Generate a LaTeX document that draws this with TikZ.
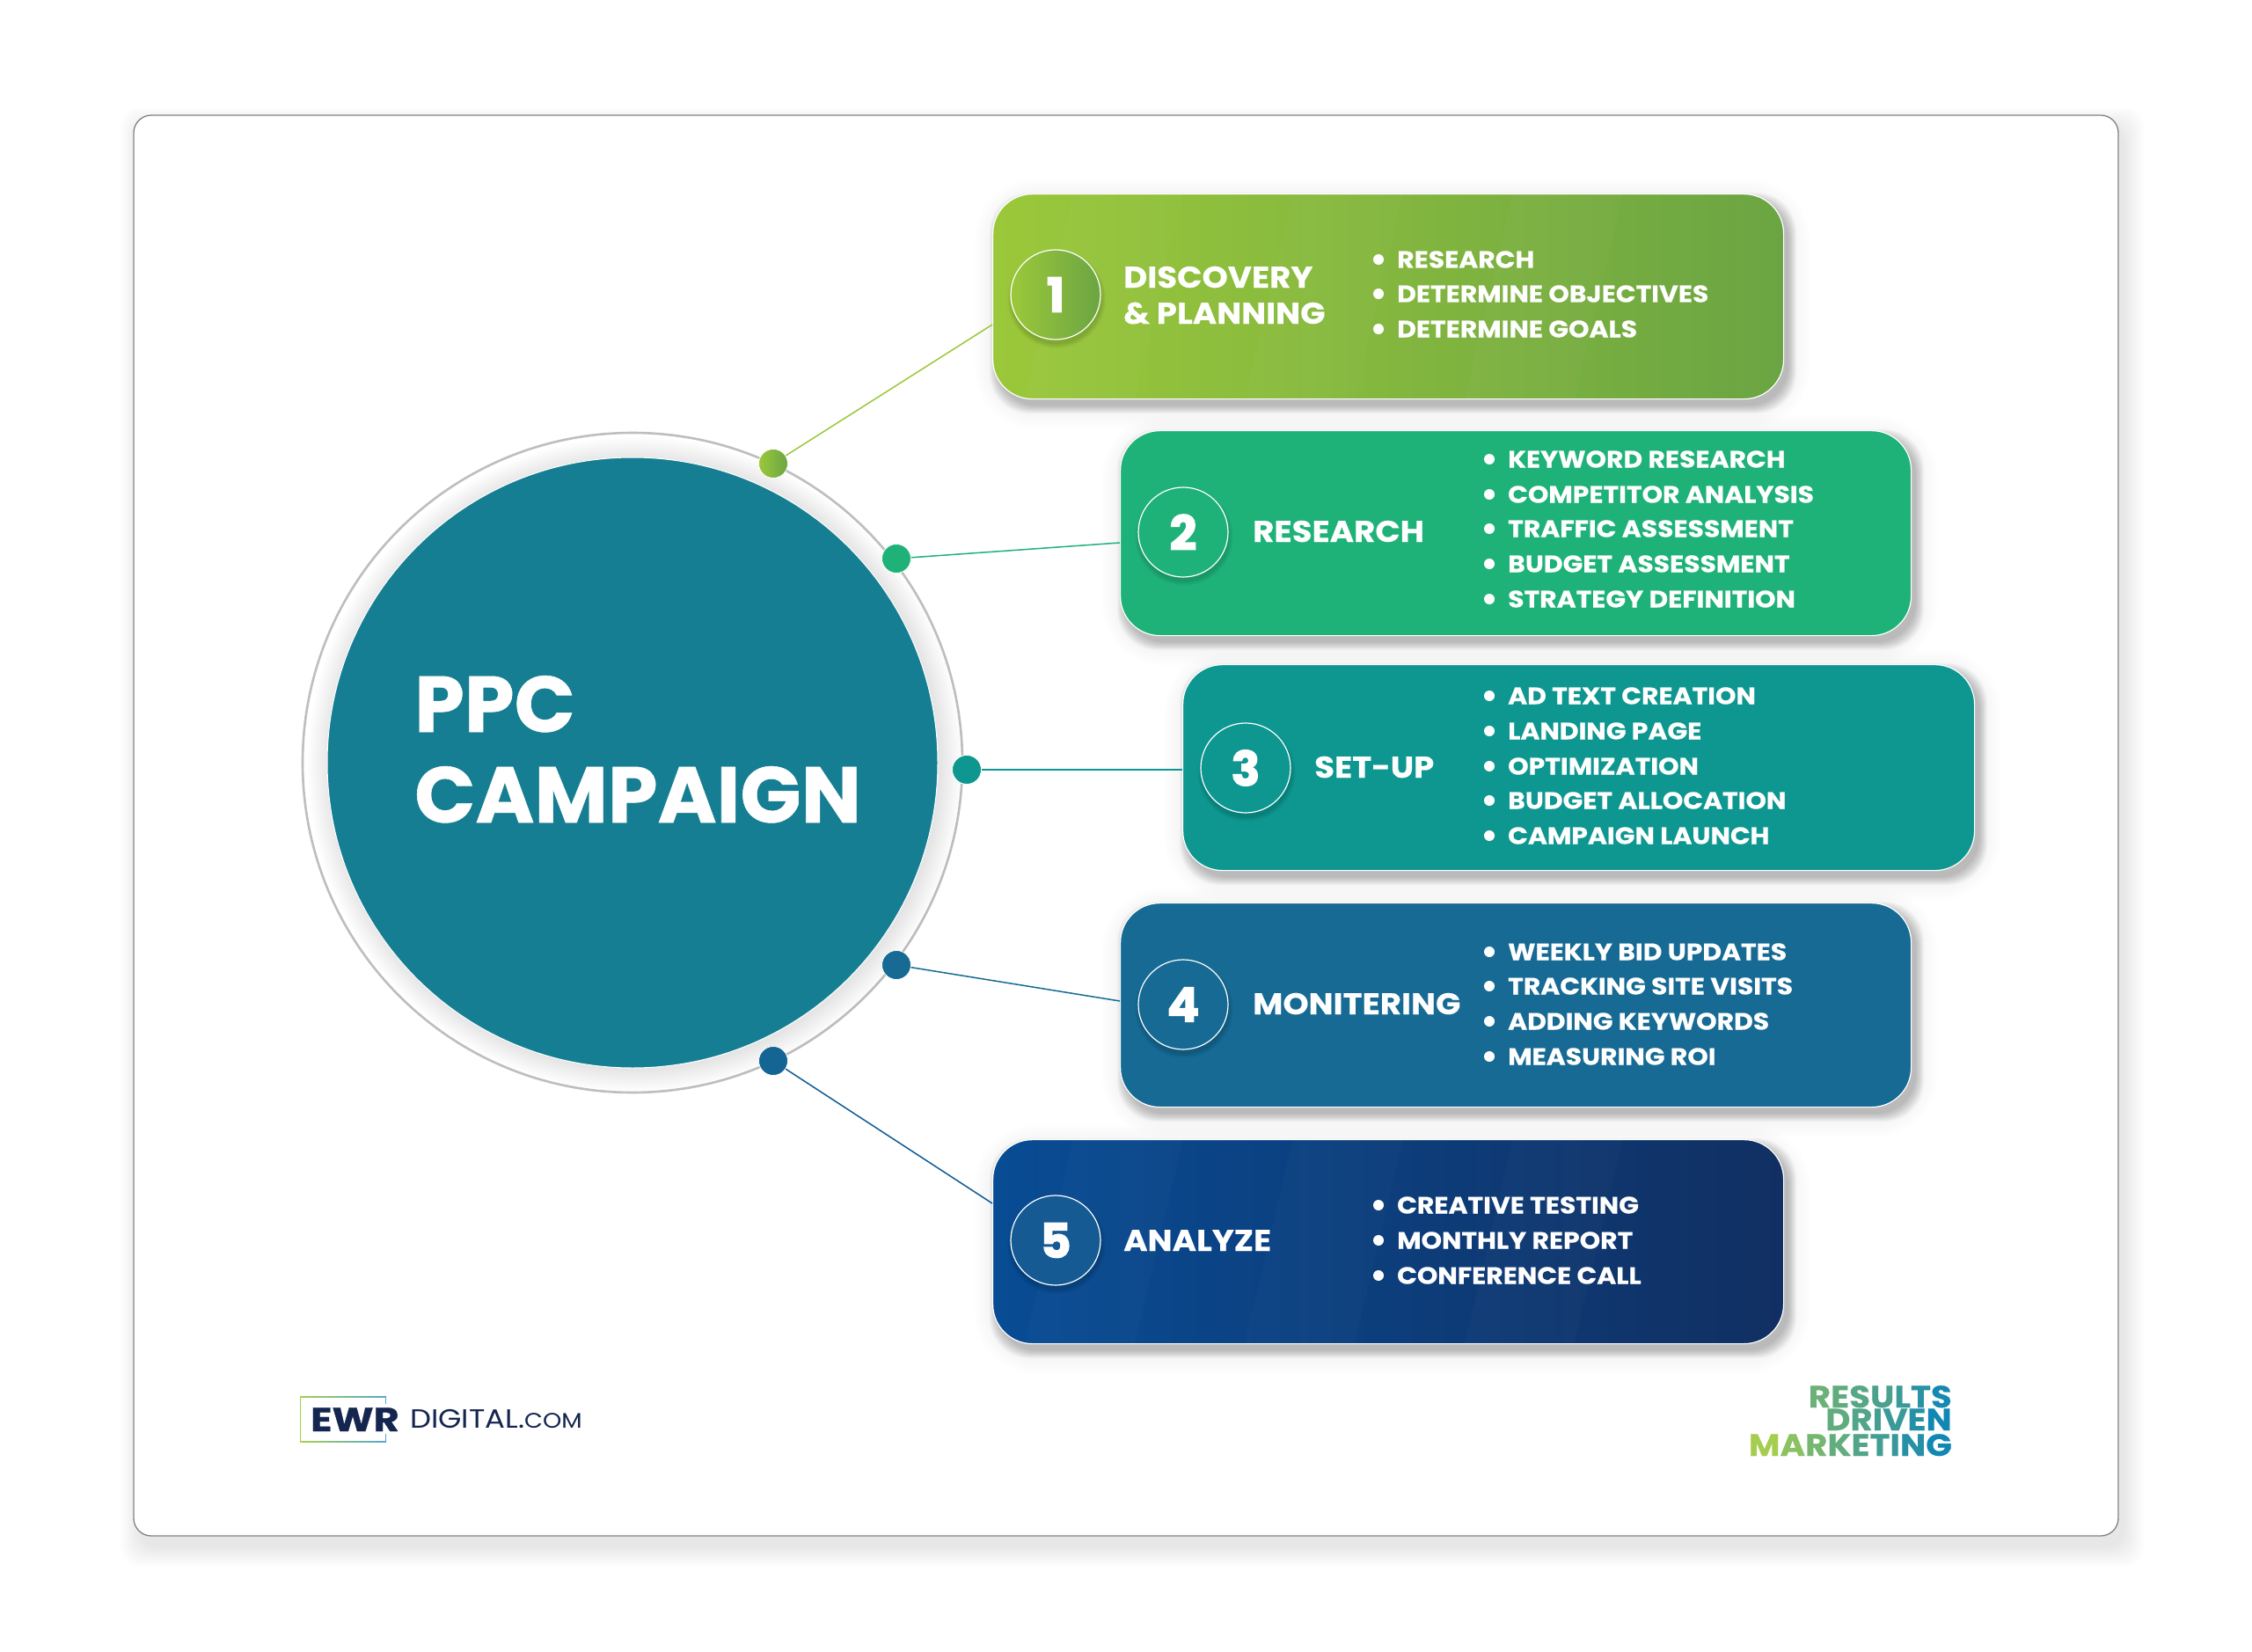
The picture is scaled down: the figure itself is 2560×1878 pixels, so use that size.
\documentclass[tikz,border=0pt]{standalone}
\usepackage{fontspec}
\setmainfont{Poppins}
\newfontfamily\wideitem{Poppins}[FakeStretch=1.105,FakeBold=.4]
\newfontfamily\widetitle{Poppins}[FakeStretch=1.095,FakeBold=.4]
\newfontfamily\widehub{Poppins}[FakeStretch=1.01,FakeBold=.6]
\newfontfamily\widedigit{Poppins}[FakeStretch=1.0,FakeBold=2.5]
\newfontfamily\widelogo{Poppins}[FakeStretch=1.18,FakeBold=.8]
\newfontfamily\widecom{Poppins}[FakeStretch=1.13]
\newfontfamily\widetag{Poppins}[FakeStretch=1.11,FakeBold=.4]
\usetikzlibrary{calc}
\definecolor{cone}{HTML}{9BC83A}\definecolor{conee}{HTML}{6BA543}
\definecolor{ctwo}{HTML}{1FB278}
\definecolor{cthree}{HTML}{0E9790}
\definecolor{cfour}{HTML}{166A94}
\definecolor{cfive}{HTML}{084C94}\definecolor{cfivee}{HTML}{112F62}
\definecolor{cfivering}{HTML}{165A93}
\definecolor{hub}{HTML}{167E92}
\definecolor{navy}{HTML}{14254F}
\definecolor{lg}{HTML}{A8CE4E}\definecolor{rg}{HTML}{0983B9}
\newcommand\gl[2]{\textcolor{rg!#1!lg}{#2}}
\newcommand\softbox[4]{%
  \foreach \k in {0,2,...,26}{
    \fill[black,opacity=.0045,rounded corners=45pt+\k*1pt]
      (#1+5-\k,#2+9-\k) rectangle (#3+5+\k,#4+9+\k);}
  \foreach \k in {0,1,...,9}{
    \fill[black,opacity=.022,rounded corners=45pt]
      (#1+6-\k,#2+8-\k) rectangle (#3+6+\k,#4+8+\k);}
}
\newcommand\rowitem[4]{%
  \node[bul] (#1b) at (#2-21,#3) {};
  \node[itemtxt] (#1t) at (#2,#3+9.5) {#4};
}
\tikzset{
  cardbox/.style={draw=white,line width=1.2pt,rounded corners=45pt,inner sep=0pt,anchor=north west},
  numring/.style={circle,draw=white,line width=1.2pt,minimum size=102pt,inner sep=0pt,text=white,font=\fontsize{54}{54}\widedigit\bfseries},
  titletxt/.style={anchor=base west,inner sep=0pt,text=white,font=\fontsize{34}{40}\widetitle\bfseries},
  hubtxt/.style={anchor=base west,inner sep=0pt,text=white,font=\fontsize{90}{103}\widehub\bfseries},
  itemtxt/.style={anchor=base west,inner sep=0pt,text=white,font=\fontsize{27}{30}\wideitem\bfseries},
  tagtxt/.style={anchor=base east,inner sep=0pt,font=\fontsize{35}{35}\widetag\bfseries},
  bul/.style={circle,fill=white,minimum size=12pt,inner sep=0pt},
  dotm/.style={circle,draw=white,line width=.8pt,minimum size=33pt,inner sep=0pt},
  link/.style={line width=1.5pt},
}
\begin{document}
\begin{tikzpicture}[x=1pt,y=-1pt]
\useasboundingbox (0,0) rectangle (2560,1878);
\fill[white] (0,0) rectangle (2560,1878);
% frame shadow
\foreach \k in {0,2,...,22}{
  \fill[black,opacity=.0075,rounded corners=22pt]
    (152+7-\k,131+13-\k) rectangle (2408+7+\k,1746+13+\k);}
\node[draw={rgb,255:red,130;green,130;blue,130},fill=white,line width=1.3pt,rounded corners=20pt,
  minimum width=2256pt,minimum height=1615pt,inner sep=0pt] (frame) at (1280,938.5) {};
% hub
\node[circle,draw={rgb,255:red,190;green,190;blue,190},line width=2.6pt,fill=white,minimum size=750pt,inner sep=0pt] (ring) at (719,867) {};
\foreach \r in {372,370,...,347}{
  \fill[black,opacity=.0095] (722,869) circle (\r pt);}
\node[circle,draw=white,line width=1pt,fill=hub,minimum size=694pt,inner sep=0pt] (hubc) at (719,867) {};
\node[hubtxt] (hubt) at (471,832) {PPC};
\node[hubtxt] (hubu) at (471,935) {CAMPAIGN};
% card shadows
\softbox{1128}{220}{2027}{453}
\softbox{1273}{489}{2172}{722}
\softbox{1344}{755}{2244}{989}
\softbox{1273}{1026}{2172}{1258}
\softbox{1128}{1295}{2027}{1527}
% cards
\node[cardbox,left color=cone,right color=conee,minimum width=899pt,minimum height=233pt] (c1) at (1128,220) {};
\node[cardbox,fill=ctwo,minimum width=899pt,minimum height=233pt] (c2) at (1273,489) {};
\node[cardbox,fill=cthree,minimum width=900pt,minimum height=234pt] (c3) at (1344,755) {};
\node[cardbox,fill=cfour,minimum width=899pt,minimum height=232pt] (c4) at (1273,1026) {};
\node[cardbox,left color=cfive,right color=cfivee,minimum width=899pt,minimum height=232pt] (c5) at (1128,1295) {};
% stripes
\begin{scope}
\clip[rounded corners=45pt] (1128,220) rectangle (2027,453);
\foreach \a in {0,2,4}{
  \fill[white,opacity=.022] (1165+\a*125,453) -- (1290+\a*125,453) -- (1345+\a*125,220) -- (1220+\a*125,220) -- cycle;}
\end{scope}
\begin{scope}
\clip[rounded corners=45pt] (1128,1295) rectangle (2027,1527);
\foreach \a in {0,2,4}{
  \fill[white,opacity=.018] (1165+\a*125,1527) -- (1290+\a*125,1527) -- (1345+\a*125,1295) -- (1220+\a*125,1295) -- cycle;}
\end{scope}
% connector ends
\coordinate (e1) at (1128,369);
\coordinate (e2) at (1273,617);
\coordinate (e3) at (1344,875);
\coordinate (e4) at (1273,1138);
\coordinate (e5) at (1128,1368);
\node[dotm,left color=cone,right color=conee] (d1) at (879,527) {};
\node[dotm,fill=ctwo] (d2) at (1019,635) {};
\node[dotm,fill=cthree] (d3) at (1099,875) {};
\node[dotm,fill=cfour] (d4) at (1019,1097) {};
\node[dotm,fill=cfour!85!cfive] (d5) at (879,1206) {};
\draw[link,draw=cone] (d1) -- (e1);
\draw[link,draw=ctwo] (d2) -- (e2);
\draw[link,draw=cthree] (d3) -- (e3);
\draw[link,draw=cfour] (d4) -- (e4);
\draw[link,draw=cfour!50!cfive] (d5) -- (e5);
% number rings
\foreach \x/\y in {1200/336,1345/606,1416/874,1345/1143,1200/1411}{
  \foreach \k in {0,1,...,5}{\fill[black,opacity=.022] (\x+1,\y+4) circle (51pt+\k*1pt);}
}
\node[numring,left color=cone,right color=conee] (n1) at (1200,335) {1};
\node[numring,fill=ctwo] (n2) at (1345,605) {2};
\node[numring,fill=cthree] (n3) at (1416,873) {3};
\node[numring,fill=cfour] (n4) at (1345,1142) {4};
\node[numring,fill=cfivering] (n5) at (1200,1410) {5};
% titles
\node[titletxt] (t1) at (1277,327) {DISCOVERY};
\node[titletxt] (t1b) at (1277,368) {\& PLANNING};
\node[titletxt] (t2) at (1424,616) {RESEARCH};
\node[titletxt] (t3) at (1494,884) {SET-UP};
\node[titletxt] (t4) at (1424,1153) {MONITERING};
\node[titletxt] (t5) at (1277,1422) {ANALYZE};
% items
\rowitem{a1}{1588}{295}{RESEARCH}
\rowitem{a2}{1588}{334}{DETERMINE OBJECTIVES}
\rowitem{a3}{1588}{374}{DETERMINE GOALS}
\rowitem{b1}{1714}{522}{KEYWORD RESEARCH}
\rowitem{b2}{1714}{562}{COMPETITOR ANALYSIS}
\rowitem{b3}{1714}{601}{TRAFFIC ASSESSMENT}
\rowitem{b4}{1714}{641}{BUDGET ASSESSMENT}
\rowitem{b5}{1714}{681}{STRATEGY DEFINITION}
\rowitem{g1}{1714}{791}{AD TEXT CREATION}
\rowitem{g2}{1714}{831}{LANDING PAGE}
\rowitem{g3}{1714}{871}{OPTIMIZATION}
\rowitem{g4}{1714}{910}{BUDGET ALLOCATION}
\rowitem{g5}{1714}{950}{CAMPAIGN LAUNCH}
\rowitem{h1}{1714}{1082}{WEEKLY BID UPDATES}
\rowitem{h2}{1714}{1121}{TRACKING SITE VISITS}
\rowitem{h3}{1714}{1161}{ADDING KEYWORDS}
\rowitem{h4}{1714}{1201}{MEASURING ROI}
\rowitem{k1}{1588}{1370}{CREATIVE TESTING}
\rowitem{k2}{1588}{1410}{MONTHLY REPORT}
\rowitem{k3}{1588}{1450}{CONFERENCE CALL}
% EWR logo
\shade[left color=lg,right color=rg!70!white] (341,1587) rectangle (439,1588.4);
\shade[left color=lg,right color=rg!70!white] (341,1638) rectangle (439,1639.4);
\fill[lg] (341,1587) rectangle (342.4,1639.4);
\fill[rg!70!white] (437.6,1587) rectangle (439,1596);
\fill[rg!70!white] (437.6,1630) rectangle (439,1639.4);
\node[fill=white,inner sep=1pt,anchor=base west,text=navy,font=\fontsize{38}{38}\widelogo\bfseries] (ewr) at (352,1627) {EWR};
\node[anchor=base west,inner sep=0pt,text=navy,font=\fontsize{30}{30}\widecom] (dig) at (466,1623) {DIGITAL.{\fontsize{24}{24}\selectfont COM}};
% tagline
\node[tagtxt] (r1) at (2219,1600) {\gl{38}{R}\gl{45}{E}\gl{52}{S}\gl{60}{U}\gl{70}{L}\gl{80}{T}\gl{92}{S}};
\node[tagtxt] (r2) at (2219,1626) {\gl{45}{D}\gl{55}{R}\gl{62}{I}\gl{70}{V}\gl{82}{E}\gl{95}{N}};
\node[tagtxt] (r3) at (2219,1655) {\gl{2}{M}\gl{18}{A}\gl{32}{R}\gl{44}{K}\gl{54}{E}\gl{64}{T}\gl{72}{I}\gl{82}{N}\gl{95}{G}};
\end{tikzpicture}
\end{document}
